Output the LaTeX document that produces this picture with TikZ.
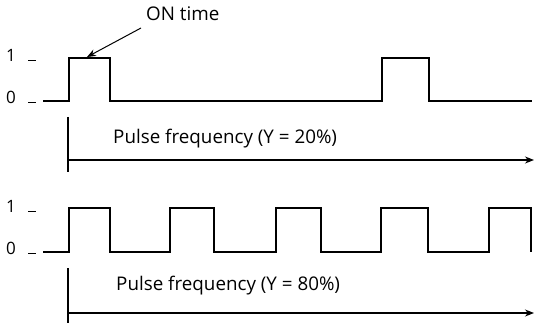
\documentclass[tikz,border=0pt]{standalone}
\usepackage{fontspec}
\setmainfont{Open Sans}
\usetikzlibrary{arrows.meta}
\begin{document}
\begin{tikzpicture}[x=1pt,y=-1pt,
  wave/.style={line width=2.2pt,line join=miter},
  axis/.style={line width=1.1pt},
  lbl/.style={font=\fontsize{18.8}{20}\selectfont,inner sep=0pt},
  dig/.style={font=\fontsize{17}{19}\selectfont,inner sep=0pt},
  tick/.style={line width=0.9pt}]
\useasboundingbox (0,0) rectangle (534,323);
% top
\node[dig] (one1) at (11,55) {1};
\node[dig] (zero1) at (11,97) {0};
\draw[tick] (28,60) -- (36,60);
\draw[tick] (28,102) -- (36,102);
\draw[wave] (43,101) -- (69,101) -- (69,58) -- (110,58) -- (110,101) -- (382,101) -- (382,58) -- (429,58) -- (429,101) -- (532,101);
\node[lbl,anchor=west] (ont) at (146,14) {ON time};
\coordinate (ontail) at (141,28);
\coordinate (ontip) at (87,57);
\draw[line width=1pt,-{Stealth[length=9pt,width=7pt]}] (ontail) -- (ontip);
\coordinate (v1a) at (68,117);
\coordinate (v1b) at (68,172);
\draw[axis] (v1a) -- (v1b);
\coordinate (a1s) at (68,160);
\coordinate (a1e) at (534,160);
\draw[axis,-{Stealth[length=9pt,width=7pt]}] (a1s) -- (a1e);
\node[lbl,anchor=west] (pf1) at (113,139) {Pulse frequency (Y = 20\%)};
% bottom
\node[dig] (one2) at (11,206) {1};
\node[dig] (zero2) at (11,248) {0};
\draw[tick] (28,211) -- (36,211);
\draw[tick] (28,253) -- (36,253);
\draw[wave] (43,252) -- (69,252) -- (69,208) -- (110,208) -- (110,252)
  -- (170,252) -- (170,208) -- (214,208) -- (214,252)
  -- (276,252) -- (276,208) -- (321,208) -- (321,252)
  -- (381,252) -- (381,208) -- (428,208) -- (428,252)
  -- (489,252) -- (489,208) -- (531,208) -- (531,252);
\coordinate (v2a) at (68,268);
\coordinate (v2b) at (68,323);
\draw[axis] (v2a) -- (v2b);
\coordinate (a2s) at (68,313);
\coordinate (a2e) at (534,313);
\draw[axis,-{Stealth[length=9pt,width=7pt]}] (a2s) -- (a2e);
\node[lbl,anchor=west] (pf2) at (116,286) {Pulse frequency (Y = 80\%)};
\end{tikzpicture}
\end{document}
